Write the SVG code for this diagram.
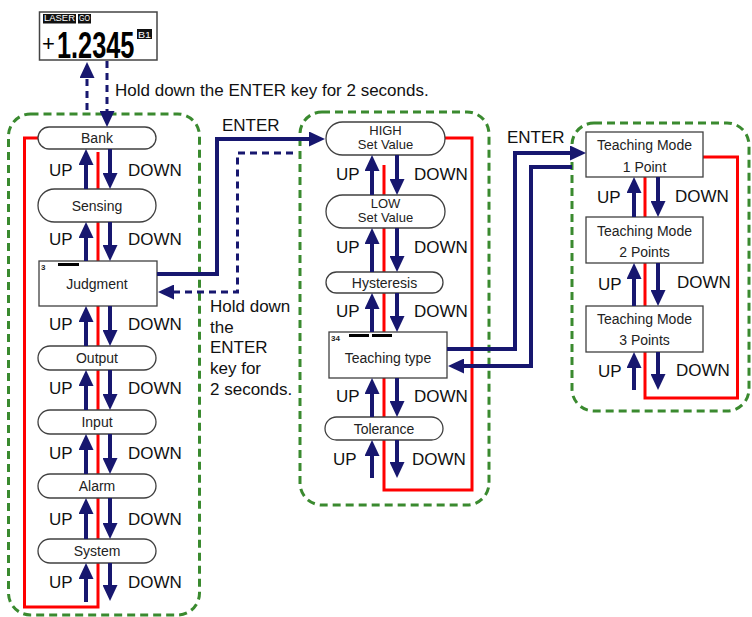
<svg xmlns="http://www.w3.org/2000/svg" width="752" height="617" viewBox="0 0 752 617">
<defs>
<style>
.g{fill:none;stroke:#3a8a2f;stroke-width:3;stroke-dasharray:8 5}
.red{fill:none;stroke:#ff0000;stroke-width:3}
.nv{fill:none;stroke:#17176f;stroke-width:4}
.nvd{fill:none;stroke:#17176f;stroke-width:3;stroke-dasharray:7 5}
.node{fill:#fff;stroke:#404040;stroke-width:1.3}
.nt{font-family:"Liberation Sans",Arial,sans-serif;font-size:14px;text-anchor:middle;fill:#222}
.nt2{font-family:"Liberation Sans",Arial,sans-serif;font-size:13px;text-anchor:middle;fill:#222}
.lb{font-family:"Liberation Sans",Arial,sans-serif;font-size:17px;fill:#111}
.sm{font-family:"Liberation Sans",Arial,sans-serif;font-size:8px;font-weight:bold;fill:#222}
.bar{fill:#000}
.badge{font-family:"Liberation Sans",Arial,sans-serif;font-size:9px;fill:#fff}
</style>
<marker id="ah" markerUnits="userSpaceOnUse" markerWidth="16" markerHeight="15" refX="8" refY="7.5" orient="auto">
<path d="M0,0 L16,7.5 L0,15 Z" fill="#17176f"/>
</marker>
</defs>
<rect width="752" height="617" fill="#fff"/>

<!-- groups (dashed green) -->
<g id="groups">
<rect class="g" x="8.5" y="114" width="191" height="501" rx="22"/>
<rect class="g" x="300" y="112" width="189" height="393" rx="22"/>
<rect class="g" x="572" y="123" width="177" height="288" rx="22"/>
</g>

<!-- red loops -->
<g id="loops">
<polyline class="red" points="38,138 24.5,138 24.5,607 98,607 98,152"/>
<polyline class="red" points="445,138 472,138 472,490 384,490 384,165"/>
<polyline class="red" points="703,157 737.5,157 737.5,398 645,398 645,177"/>
</g>

<!-- display -->
<g id="display">
<rect x="39.5" y="12" width="117.5" height="48" fill="#fff" stroke="#444" stroke-width="1.5"/>
<rect x="43" y="14" width="33" height="9.5" fill="#111"/>
<text class="badge" x="44" y="21" textLength="31" lengthAdjust="spacingAndGlyphs">LASER</text>
<rect x="78" y="14" width="13" height="9.5" fill="#111"/>
<text class="badge" x="79" y="21" textLength="11" lengthAdjust="spacingAndGlyphs">GO</text>
<text x="42" y="51" font-family="'Liberation Sans',Arial,sans-serif" font-size="22" fill="#000">+</text>
<text transform="translate(57,58) scale(0.675,1)" font-family="'Liberation Sans',Arial,sans-serif" font-size="37.5" font-weight="bold" fill="#000">1.2345</text>
<rect x="137" y="29" width="15" height="10" fill="#111"/>
<text class="badge" x="138" y="37.5" textLength="13" lengthAdjust="spacingAndGlyphs">B1</text>
</g>

<!-- left column nodes -->
<g id="bank"><rect class="node" x="38" y="127" width="118" height="22" rx="11"/><text class="nt" x="97" y="143">Bank</text></g>
<g id="sensing"><rect class="node" x="38" y="189" width="118" height="33" rx="16.5"/><text class="nt" x="97" y="210.5">Sensing</text></g>
<g id="judgment"><rect class="node" x="39" y="261" width="118" height="45"/><rect class="bar" x="58" y="263" width="21" height="3"/><text class="sm" x="41" y="270">3</text><text class="nt" x="97" y="288.5">Judgment</text></g>
<g id="output"><rect class="node" x="38" y="346" width="118" height="24" rx="12"/><text class="nt" x="97" y="363">Output</text></g>
<g id="input"><rect class="node" x="38" y="410" width="118" height="24" rx="12"/><text class="nt" x="97" y="427">Input</text></g>
<g id="alarm"><rect class="node" x="38" y="474" width="118" height="24" rx="12"/><text class="nt" x="97" y="491">Alarm</text></g>
<g id="system"><rect class="node" x="38" y="539" width="118" height="24" rx="12"/><text class="nt" x="97" y="556">System</text></g>

<!-- middle column nodes -->
<g id="high"><rect class="node" x="326" y="122" width="119" height="33" rx="16.5"/><text class="nt2" x="385.5" y="134.5">HIGH</text><text class="nt2" x="385.5" y="149.3">Set Value</text></g>
<g id="low"><rect class="node" x="326" y="195" width="119" height="33" rx="16.5"/><text class="nt2" x="385.5" y="207.5">LOW</text><text class="nt2" x="385.5" y="222.3">Set Value</text></g>
<g id="hysteresis"><rect class="node" x="326" y="272" width="117" height="21" rx="10.5"/><text class="nt" x="384.5" y="287.5">Hysteresis</text></g>
<g id="teaching-type"><rect class="node" x="329" y="332" width="118" height="46"/><rect class="bar" x="349" y="334" width="20" height="3"/><rect class="bar" x="372" y="334" width="20" height="3"/><text class="sm" x="331" y="341">34</text><text class="nt" x="388" y="362.5">Teaching type</text></g>
<g id="tolerance"><rect class="node" x="325" y="417" width="118" height="23" rx="11.5"/><text class="nt" x="384" y="433.5">Tolerance</text></g>

<!-- right column nodes -->
<g id="tm1"><rect class="node" x="586" y="132" width="117" height="45"/><text class="nt" x="644.5" y="150">Teaching Mode</text><text class="nt" x="644.5" y="172">1 Point</text></g>
<g id="tm2"><rect class="node" x="586" y="217" width="117" height="46"/><text class="nt" x="644.5" y="236">Teaching Mode</text><text class="nt" x="644.5" y="257">2 Points</text></g>
<g id="tm3"><rect class="node" x="586" y="306" width="117" height="46"/><text class="nt" x="644.5" y="324">Teaching Mode</text><text class="nt" x="644.5" y="345">3 Points</text></g>

<!-- connectors -->
<g id="connectors">
<!-- display arrows -->
<line class="nvd" x1="87" y1="110" x2="87" y2="70" marker-end="url(#ah)"/>
<line class="nvd" x1="107" y1="61" x2="107" y2="119" marker-end="url(#ah)"/>
<!-- left column UP/DOWN -->
<line class="nv" x1="86" y1="189" x2="86" y2="157" marker-end="url(#ah)"/>
<line class="nv" x1="110" y1="149" x2="110" y2="181" marker-end="url(#ah)"/>
<line class="nv" x1="86" y1="261" x2="86" y2="230" marker-end="url(#ah)"/>
<line class="nv" x1="110" y1="222" x2="110" y2="253" marker-end="url(#ah)"/>
<line class="nv" x1="86" y1="346" x2="86" y2="314" marker-end="url(#ah)"/>
<line class="nv" x1="110" y1="306" x2="110" y2="338" marker-end="url(#ah)"/>
<line class="nv" x1="86" y1="410" x2="86" y2="378" marker-end="url(#ah)"/>
<line class="nv" x1="110" y1="370" x2="110" y2="402" marker-end="url(#ah)"/>
<line class="nv" x1="86" y1="474" x2="86" y2="442" marker-end="url(#ah)"/>
<line class="nv" x1="110" y1="434" x2="110" y2="466" marker-end="url(#ah)"/>
<line class="nv" x1="86" y1="539" x2="86" y2="506" marker-end="url(#ah)"/>
<line class="nv" x1="110" y1="498" x2="110" y2="531" marker-end="url(#ah)"/>
<line class="nv" x1="86" y1="602" x2="86" y2="571" marker-end="url(#ah)"/>
<line class="nv" x1="110" y1="563" x2="110" y2="593" marker-end="url(#ah)"/>
<!-- middle column UP/DOWN -->
<line class="nv" x1="372" y1="195" x2="372" y2="163" marker-end="url(#ah)"/>
<line class="nv" x1="397" y1="155" x2="397" y2="187" marker-end="url(#ah)"/>
<line class="nv" x1="372" y1="272" x2="372" y2="236" marker-end="url(#ah)"/>
<line class="nv" x1="397" y1="228" x2="397" y2="264" marker-end="url(#ah)"/>
<line class="nv" x1="372" y1="332" x2="372" y2="301" marker-end="url(#ah)"/>
<line class="nv" x1="397" y1="293" x2="397" y2="324" marker-end="url(#ah)"/>
<line class="nv" x1="372" y1="417" x2="372" y2="386" marker-end="url(#ah)"/>
<line class="nv" x1="397" y1="378" x2="397" y2="409" marker-end="url(#ah)"/>
<line class="nv" x1="372" y1="478" x2="372" y2="448" marker-end="url(#ah)"/>
<line class="nv" x1="397" y1="440" x2="397" y2="470" marker-end="url(#ah)"/>
<!-- right column UP/DOWN -->
<line class="nv" x1="634" y1="217" x2="634" y2="185" marker-end="url(#ah)"/>
<line class="nv" x1="658" y1="177" x2="658" y2="209" marker-end="url(#ah)"/>
<line class="nv" x1="634" y1="306" x2="634" y2="271" marker-end="url(#ah)"/>
<line class="nv" x1="658" y1="263" x2="658" y2="298" marker-end="url(#ah)"/>
<line class="nv" x1="634" y1="390" x2="634" y2="360" marker-end="url(#ah)"/>
<line class="nv" x1="658" y1="352" x2="658" y2="382" marker-end="url(#ah)"/>
<!-- ENTER connectors -->
<path class="nv" d="M157,274 H217 V139 H317" marker-end="url(#ah)"/>
<path class="nvd" d="M293,153 H237.5 V292 H166" marker-end="url(#ah)"/>
<path class="nv" d="M447,349 H515 V153 H578" marker-end="url(#ah)"/>
<path class="nv" d="M572,167 H531 V366 H456" marker-end="url(#ah)"/>
</g>

<!-- labels -->
<g id="labels">
<text class="lb" x="115" y="96">Hold down the ENTER key for 2 seconds.</text>
<text class="lb" x="222" y="131">ENTER</text>
<text class="lb" x="507" y="143">ENTER</text>
<text class="lb" x="210" y="312">Hold down</text>
<text class="lb" x="210" y="332.5">the</text>
<text class="lb" x="210" y="353">ENTER</text>
<text class="lb" x="210" y="374">key for</text>
<text class="lb" x="210" y="395">2 seconds.</text>

<text class="lb" x="49" y="176">UP</text><text class="lb" x="128" y="176">DOWN</text>
<text class="lb" x="49" y="245">UP</text><text class="lb" x="128" y="245">DOWN</text>
<text class="lb" x="49" y="330">UP</text><text class="lb" x="128" y="330">DOWN</text>
<text class="lb" x="49" y="394">UP</text><text class="lb" x="128" y="394">DOWN</text>
<text class="lb" x="49" y="459">UP</text><text class="lb" x="128" y="459">DOWN</text>
<text class="lb" x="49" y="525">UP</text><text class="lb" x="128" y="525">DOWN</text>
<text class="lb" x="49" y="588">UP</text><text class="lb" x="128" y="588">DOWN</text>

<text class="lb" x="336" y="180">UP</text><text class="lb" x="414" y="180">DOWN</text>
<text class="lb" x="336" y="253">UP</text><text class="lb" x="414" y="253">DOWN</text>
<text class="lb" x="336" y="317">UP</text><text class="lb" x="414" y="317">DOWN</text>
<text class="lb" x="336" y="402">UP</text><text class="lb" x="414" y="402">DOWN</text>
<text class="lb" x="333" y="465">UP</text><text class="lb" x="412" y="465">DOWN</text>

<text class="lb" x="597" y="203">UP</text><text class="lb" x="675" y="202">DOWN</text>
<text class="lb" x="598" y="290">UP</text><text class="lb" x="677" y="288">DOWN</text>
<text class="lb" x="598" y="377">UP</text><text class="lb" x="676" y="376">DOWN</text>
</g>
</svg>
